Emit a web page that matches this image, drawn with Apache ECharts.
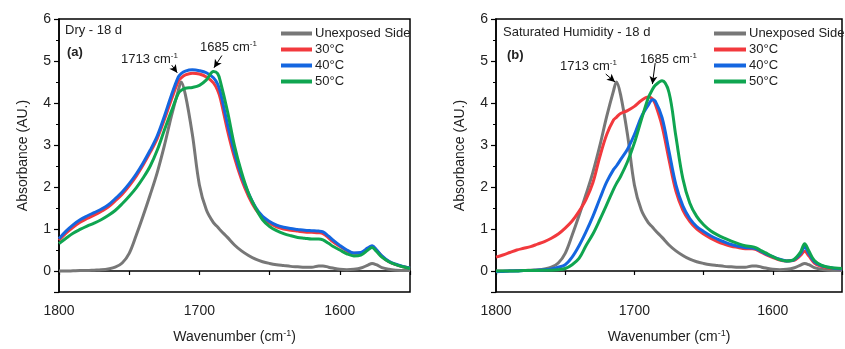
<!DOCTYPE html>
<html>
<head>
<meta charset="utf-8">
<script src="https://cdn.jsdelivr.net/npm/echarts@6/dist/echarts.min.js"></script>
<style>html,body{margin:0;padding:0;background:#fff}#c{width:845px;height:349px}</style>
</head>
<body>
<div id="c"></div>
<script>
// Wavenumber grid (cm-1)
const wavenumbers = [1800,1795,1790,1785,1780,1775,1770,1765,1760,1755,1750,1745,1740,1735,1730,1725,1720,1715,1713,1710,1705,1700,1695,1690,1687,1685,1680,1675,1670,1665,1660,1655,1650,1645,1640,1635,1630,1625,1620,1615,1612,1608,1605,1600,1595,1590,1585,1580,1577,1574,1570,1565,1560,1555,1550];

const seriesNames = ["Unexposed Side", "30°C", "40°C", "50°C"];

// Unexposed side (same in both panels)
const unexposed = [0,0,0.005,0.01,0.01,0.02,0.03,0.05,0.09,0.19,0.42,0.85,1.32,1.82,2.35,2.98,3.68,4.3,4.5,4.2,3.25,2.05,1.45,1.15,1.05,0.97,0.8,0.62,0.48,0.37,0.28,0.22,0.18,0.15,0.13,0.11,0.1,0.09,0.09,0.12,0.12,0.09,0.07,0.04,0.03,0.04,0.07,0.14,0.18,0.15,0.08,0.04,0.02,0.01,0.01];

// Panel (a) Dry - 18 d
const dry30 = [0.73,0.9,1.04,1.16,1.25,1.33,1.42,1.52,1.67,1.83,2.03,2.26,2.53,2.83,3.16,3.6,4.08,4.52,4.6,4.67,4.71,4.69,4.62,4.48,4.3,4.1,3.35,2.7,2.18,1.78,1.47,1.27,1.14,1.05,1.0,0.97,0.95,0.93,0.92,0.91,0.89,0.79,0.7,0.59,0.48,0.42,0.43,0.54,0.59,0.5,0.35,0.22,0.15,0.1,0.07];
const dry40 = [0.77,0.95,1.1,1.22,1.31,1.39,1.47,1.57,1.72,1.88,2.08,2.31,2.58,2.88,3.22,3.68,4.18,4.62,4.7,4.76,4.79,4.77,4.72,4.6,4.45,4.25,3.5,2.82,2.27,1.85,1.52,1.3,1.18,1.09,1.04,1.01,0.99,0.97,0.96,0.95,0.93,0.83,0.74,0.61,0.5,0.43,0.44,0.55,0.6,0.51,0.36,0.23,0.16,0.11,0.07];
const dry50 = [0.65,0.78,0.9,0.99,1.07,1.14,1.22,1.32,1.44,1.6,1.78,1.98,2.22,2.5,2.88,3.35,3.8,4.23,4.3,4.35,4.37,4.42,4.55,4.75,4.7,4.5,3.8,2.98,2.35,1.85,1.5,1.22,1.06,0.96,0.89,0.84,0.8,0.78,0.76,0.76,0.74,0.66,0.59,0.5,0.41,0.36,0.38,0.5,0.56,0.47,0.33,0.22,0.15,0.1,0.06];

// Panel (b) Saturated Humidity - 18 d
const hum30 = [0.33,0.38,0.44,0.5,0.54,0.58,0.64,0.7,0.78,0.88,1.02,1.19,1.42,1.7,2.1,2.72,3.25,3.6,3.66,3.75,3.82,3.92,4.06,4.14,4.1,3.98,3.45,2.65,1.9,1.45,1.18,1.0,0.88,0.78,0.7,0.64,0.59,0.56,0.53,0.53,0.51,0.44,0.39,0.32,0.26,0.24,0.25,0.37,0.47,0.36,0.19,0.11,0.07,0.06,0.05];
const hum40 = [-0.02,-0.01,0,0,0.01,0.01,0.02,0.03,0.05,0.09,0.15,0.33,0.6,0.93,1.3,1.72,2.12,2.42,2.5,2.65,2.9,3.25,3.67,3.95,4.08,4.05,3.65,2.85,2.05,1.55,1.25,1.06,0.94,0.84,0.76,0.69,0.63,0.59,0.56,0.55,0.53,0.46,0.41,0.34,0.28,0.24,0.26,0.41,0.57,0.42,0.22,0.13,0.09,0.06,0.05];
const hum50 = [0,0,0,0,0.01,0.01,0.01,0.02,0.02,0.03,0.06,0.15,0.3,0.6,0.88,1.22,1.58,1.95,2.08,2.25,2.6,3.05,3.6,4.12,4.32,4.42,4.53,4.25,3.2,2.2,1.62,1.3,1.1,0.96,0.86,0.78,0.71,0.65,0.6,0.58,0.55,0.48,0.43,0.34,0.27,0.24,0.27,0.45,0.65,0.48,0.25,0.14,0.09,0.07,0.06];

const colors = ["#777777", "#f2393d", "#1466e0", "#0fa550"];
const FONT = "Liberation Sans, Arial, Helvetica, sans-serif";

function pairs(ys) { return wavenumbers.map((w, i) => [w, ys[i]]); }

const panelData = [
  [unexposed, dry30, dry40, dry50],
  [unexposed, hum30, hum40, hum50]
];

const arrows = [
  [ [[1719.7, 4.9], [1715.8, 4.72]], [[1684.0, 5.13], [1689.6, 4.84]] ],
  [ [[1720.7, 4.69], [1714.0, 4.5]], [[1685.0, 4.95], [1687.0, 4.45]] ]
];

const series = [];
panelData.forEach((set, p) => {
  set.forEach((ys, k) => {
    const s = {
      name: seriesNames[k], type: 'line', xAxisIndex: p, yAxisIndex: p,
      data: pairs(ys), showSymbol: false, symbol: 'none', smooth: 0.35,
      lineStyle: { width: 3, color: colors[k] }, itemStyle: { color: colors[k] },
      z: 2 + k, animation: false
    };
    if (k === 0) {
      s.markLine = {
        silent: true, symbol: ['none', 'arrow'], symbolSize: [6, 8],
        label: { show: false },
        lineStyle: { color: '#000', width: 1, type: 'solid' },
        data: arrows[p].map(a => [{ coord: a[0] }, { coord: a[1] }]),
        animation: false
      };
    }
    series.push(s);
  });
});

function xAxis(idx) {
  return {
    gridIndex: idx, type: 'value', inverse: true, min: 1550, max: 1800,
    minInterval: 50, maxInterval: 50,
    axisLine: { show: true, lineStyle: { color: '#000', width: 1.5 } },
    axisTick: { show: true, length: 4, lineStyle: { color: '#000', width: 1.2 } },
    axisLabel: { fontSize: 14, color: '#222', fontFamily: FONT, margin: 12,
      formatter: v => (v % 100 === 0 ? String(v) : '') },
    splitLine: { show: false },
    name: 'Wavenumber (cm{sup|-1})', nameLocation: 'middle', nameGap: 37,
    nameTextStyle: { fontSize: 14, color: '#222', fontFamily: FONT,
      rich: { sup: { fontSize: 9, verticalAlign: 'top', color: '#222', fontFamily: FONT, padding: [0, 0, 7, 0] } } }
  };
}
function yAxis(idx) {
  return {
    gridIndex: idx, type: 'value', min: -0.5, max: 6,
    minInterval: 1, maxInterval: 1,
    axisLine: { show: true, lineStyle: { color: '#000', width: 1.5 } },
    axisTick: { show: true, length: 5, lineStyle: { color: '#000', width: 1.2 } },
    minorTick: { show: true, splitNumber: 2, length: 3, lineStyle: { color: '#000', width: 1 } },
    axisLabel: { fontSize: 14, color: '#222', fontFamily: FONT, margin: 8, showMinLabel: false,
      formatter: v => (Number.isInteger(v) ? String(v) : '') },
    splitLine: { show: false },
    name: 'Absorbance (AU.)', nameLocation: 'middle', nameGap: 29,
    nameTextStyle: { fontSize: 14, color: '#222', fontFamily: FONT }
  };
}

function txt(x, y, text, opts) {
  return Object.assign({
    type: 'text', left: x, top: y,
    style: { text: text, fontSize: 13, fill: '#222', fontFamily: FONT,
      rich: { sup: { fontSize: 8, verticalAlign: 'top', fill: '#222', fontFamily: FONT, padding: [0,0,6,0] } } },
    z: 10
  }, opts || {});
}

const chart = echarts.init(document.getElementById('c'), null, { renderer: 'canvas' });
chart.setOption({
  animation: false,
  backgroundColor: '#fff',
  grid: [
    { left: 59, top: 19, width: 351, height: 282, show: true, borderColor: '#000', borderWidth: 1.5, backgroundColor: 'transparent' },
    { left: 496, top: 19, width: 350, height: 282, show: true, borderColor: '#000', borderWidth: 1.5, backgroundColor: 'transparent' }
  ],
  xAxis: [xAxis(0), xAxis(1)],
  yAxis: [yAxis(0), yAxis(1)],
  legend: [
    { left: 276, top: 22, orient: 'vertical', icon: 'rect', itemWidth: 31, itemHeight: 4, itemGap: 3,
      data: seriesNames, textStyle: { fontSize: 13, color: '#222', fontFamily: FONT, padding: [0,0,0,-2] }, selectedMode: false },
    { left: 709, top: 22, orient: 'vertical', icon: 'rect', itemWidth: 32, itemHeight: 4, itemGap: 3,
      data: seriesNames, textStyle: { fontSize: 13, color: '#222', fontFamily: FONT, padding: [0,0,0,-2] }, selectedMode: false }
  ],
  graphic: [
    txt(65, 24, 'Dry - 18 d'),
    txt(67, 46, '(a)', { style: { text: '(a)', fontSize: 13, fontWeight: 'bold', fill: '#222', fontFamily: FONT } }),
    txt(121, 52, '1713 cm{sup|-1}'),
    txt(200, 40, '1685 cm{sup|-1}'),
    txt(503, 26, 'Saturated Humidity - 18 d'),
    txt(507, 49, '(b)', { style: { text: '(b)', fontSize: 13, fontWeight: 'bold', fill: '#222', fontFamily: FONT } }),
    txt(560, 59, '1713 cm{sup|-1}'),
    txt(640, 52, '1685 cm{sup|-1}')
  ],
  series: series
});
</script>
</body>
</html>
